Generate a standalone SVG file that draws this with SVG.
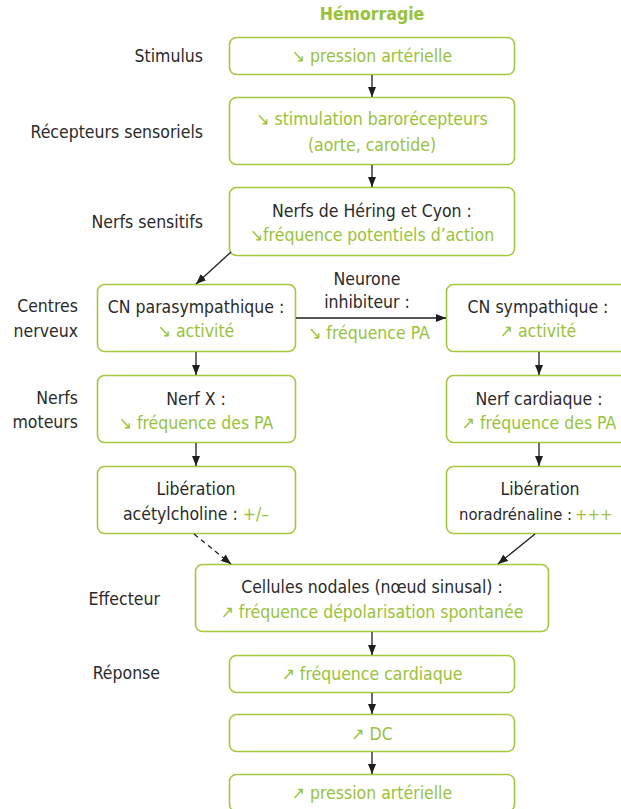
<svg xmlns="http://www.w3.org/2000/svg" width="621" height="809" viewBox="0 0 621 809">
<style>
text{font-family:"DejaVu Sans Condensed","DejaVu Sans","Liberation Sans",sans-serif;font-stretch:condensed;font-size:17.5px;}
.box{fill:#fff;stroke:#a4c83e;stroke-width:1.6;}
.g{fill:#98c23a;}
.d{fill:#2a2a2a;}
.c{text-anchor:middle;}
.r{text-anchor:end;}
.ln{stroke:#1e1e1e;stroke-width:1.3;fill:none;}
</style>
<defs>
<marker id="ah" viewBox="0 0 10 8" refX="10" refY="4" markerWidth="10" markerHeight="8" markerUnits="userSpaceOnUse" orient="auto">
<path d="M0,0 L10,4 L0,8 z" fill="#1e1e1e"/>
</marker>
</defs>
<rect width="621" height="809" fill="#fff"/>

<g id="labels">
<text class="g c" x="372" y="20" style="font-weight:bold">Hémorragie</text>
<text class="d r" x="203" y="62">Stimulus</text>
<text class="d r" x="203" y="138">Récepteurs sensoriels</text>
<text class="d r" x="203" y="228">Nerfs sensitifs</text>
<text class="d r" x="78" y="312">Centres</text>
<text class="d r" x="78" y="337">nerveux</text>
<text class="d r" x="78" y="404">Nerfs</text>
<text class="d r" x="78" y="428">moteurs</text>
<text class="d r" x="160" y="605">Effecteur</text>
<text class="d r" x="160" y="679">Réponse</text>
</g>

<g id="stimulus">
<rect class="box" x="229.5" y="37.5" width="285" height="37" rx="7"/>
<text class="g c" x="372" y="62">↘ pression artérielle</text>
</g>
<g id="recepteurs">
<rect class="box" x="229.5" y="97.5" width="285" height="67" rx="7"/>
<text class="g c" x="372" y="125">↘ stimulation barorécepteurs</text>
<text class="g c" x="372" y="151">(aorte, carotide)</text>
</g>
<g id="nerfs-sensitifs">
<rect class="box" x="229.5" y="187.5" width="285" height="68" rx="7"/>
<text class="d c" x="372" y="217">Nerfs de Héring et Cyon :</text>
<text class="g c" x="372" y="241">↘fréquence potentiels d’action</text>
</g>
<g id="cn-para">
<rect class="box" x="97.5" y="284.5" width="198" height="67" rx="7"/>
<text class="d c" x="196" y="313">CN parasympathique :</text>
<text class="g c" x="196" y="337">↘ activité</text>
</g>
<g id="neurone-inhibiteur">
<text class="d c" x="367" y="285">Neurone</text>
<text class="d c" x="367" y="308">inhibiteur :</text>
<text class="g c" x="369" y="339">↘ fréquence PA</text>
</g>
<g id="cn-symp">
<rect class="box" x="446.5" y="284.5" width="200" height="67" rx="7"/>
<text class="d c" x="538" y="313">CN sympathique :</text>
<text class="g c" x="538" y="337">↗ activité</text>
</g>
<g id="nerf-x">
<rect class="box" x="97.5" y="375.5" width="198" height="67" rx="7"/>
<text class="d c" x="196" y="405">Nerf X :</text>
<text class="g c" x="196" y="429">↘ fréquence des PA</text>
</g>
<g id="nerf-cardiaque">
<rect class="box" x="446.5" y="375.5" width="200" height="67" rx="7"/>
<text class="d c" x="539" y="405">Nerf cardiaque :</text>
<text class="g c" x="539" y="429">↗ fréquence des PA</text>
</g>
<g id="liberation-ach">
<rect class="box" x="97.5" y="466.5" width="198" height="67" rx="7"/>
<text class="d c" x="196" y="495">Libération</text>
<text class="d c" x="196" y="520">acétylcholine : <tspan class="g">+/–</tspan></text>
</g>
<g id="liberation-na">
<rect class="box" x="446.5" y="466.5" width="200" height="67" rx="7"/>
<text class="d c" x="540" y="495">Libération</text>
<text class="d" x="459" y="520" style="font-size:16.5px">noradrénaline :</text>
<text class="g" x="575" y="520" style="font-size:16.5px">+++</text>
</g>
<g id="effecteur">
<rect class="box" x="195.5" y="564.5" width="353" height="67" rx="7"/>
<text class="d c" x="372" y="593">Cellules nodales (nœud sinusal) :</text>
<text class="g c" x="372" y="618">↗ fréquence dépolarisation spontanée</text>
</g>
<g id="frequence-cardiaque">
<rect class="box" x="229.5" y="655.5" width="285" height="37" rx="7"/>
<text class="g c" x="372" y="680">↗ fréquence cardiaque</text>
</g>
<g id="dc">
<rect class="box" x="229.5" y="714.5" width="285" height="37" rx="7"/>
<text class="g c" x="372" y="740">↗ DC</text>
</g>
<g id="pression">
<rect class="box" x="229.5" y="774.5" width="285" height="37" rx="7"/>
<text class="g c" x="372" y="799">↗ pression artérielle</text>
</g>

<g id="connectors">
<line class="ln" x1="372" y1="75" x2="372" y2="97" marker-end="url(#ah)"/>
<line class="ln" x1="372" y1="165" x2="372" y2="187" marker-end="url(#ah)"/>
<line class="ln" x1="231" y1="252" x2="196" y2="284" marker-end="url(#ah)"/>
<line class="ln" x1="296" y1="318" x2="446" y2="318" marker-end="url(#ah)"/>
<line class="ln" x1="196" y1="352" x2="196" y2="375" marker-end="url(#ah)"/>
<line class="ln" x1="539" y1="352" x2="539" y2="375" marker-end="url(#ah)"/>
<line class="ln" x1="196" y1="443" x2="196" y2="466" marker-end="url(#ah)"/>
<line class="ln" x1="539" y1="443" x2="539" y2="466" marker-end="url(#ah)"/>
<line class="ln" x1="194" y1="534" x2="231" y2="564" stroke-dasharray="5,4" marker-end="url(#ah)"/>
<line class="ln" x1="535" y1="534" x2="498" y2="564" marker-end="url(#ah)"/>
<line class="ln" x1="372" y1="632" x2="372" y2="655" marker-end="url(#ah)"/>
<line class="ln" x1="372" y1="693" x2="372" y2="714" marker-end="url(#ah)"/>
<line class="ln" x1="372" y1="752" x2="372" y2="774" marker-end="url(#ah)"/>
</g>
</svg>
